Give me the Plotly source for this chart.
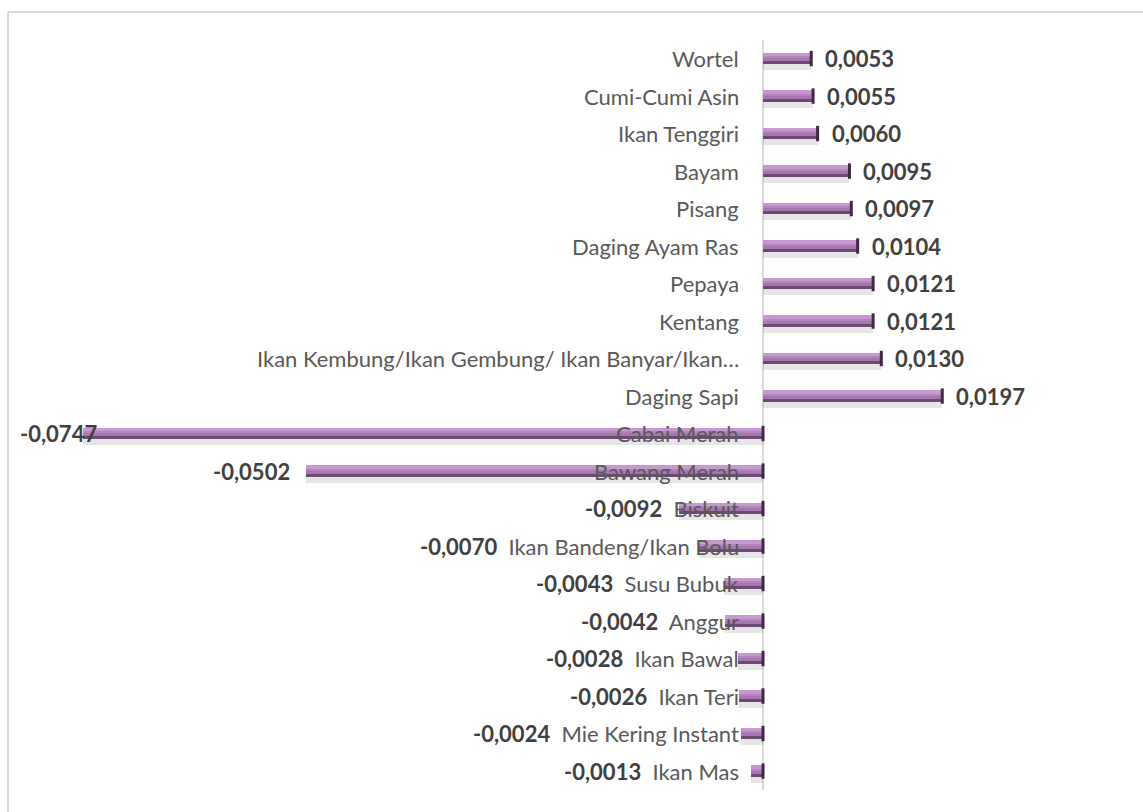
import plotly.graph_objects as go

categories = [
    "Wortel", "Cumi-Cumi Asin", "Ikan Tenggiri", "Bayam", "Pisang",
    "Daging Ayam Ras", "Pepaya", "Kentang",
    "Ikan Kembung/Ikan Gembung/ Ikan Banyar/Ikan…", "Daging Sapi",
    "Cabai Merah", "Bawang Merah", "Biskuit", "Ikan Bandeng/Ikan Bolu",
    "Susu Bubuk", "Anggur", "Ikan Bawal", "Ikan Teri", "Mie Kering Instant",
    "Ikan Mas",
]
values = [
    0.0053, 0.0055, 0.0060, 0.0095, 0.0097, 0.0104, 0.0121, 0.0121, 0.0130,
    0.0197, -0.0747, -0.0502, -0.0092, -0.0070, -0.0043, -0.0042, -0.0028,
    -0.0026, -0.0024, -0.0013,
]

def fmt(v):
    return f"{v:.4f}".replace(".", ",")

pos = list(range(len(categories)))
XMIN, XMAX = -0.08187, 0.03978
FONT = "Lato"
CAT_COLOR = "#595959"
VAL_COLOR = "#404040"
FS = 22

fig = go.Figure()

def bar_layer(color, offset, width):
    fig.add_trace(go.Bar(
        x=values, y=pos, orientation="h", marker=dict(color=color, line=dict(width=0)),
        offset=offset, width=width, hoverinfo="skip", showlegend=False,
    ))

# shadow
bar_layer("rgba(90,90,90,0.15)", -0.06, 0.37)
# main body
bar_layer("#a676af", -0.16, 0.31)
# top highlight
bar_layer("#c997d1", -0.16, 0.10)
# mid soft band
bar_layer("#b584bd", -0.06, 0.05)
# dark bottom
bar_layer("#6c4a74", 0.06, 0.09)

# dark end caps on right side of each bar
fig.add_trace(go.Scatter(
    x=[max(v, 0) for v in values], y=[p - 0.005 for p in pos], mode="markers",
    marker=dict(symbol="line-ns", size=11, line=dict(width=3, color="#3e2a43")),
    hoverinfo="skip", showlegend=False,
))

annotations = []
vmin = min(values)
for cat, v, p in zip(categories, values, pos):
    if v >= 0:
        annotations.append(dict(
            x=0, y=p, xref="x", yref="y", text=cat, showarrow=False,
            xanchor="right", xshift=-22,
            font=dict(family=FONT, size=FS, color=CAT_COLOR),
        ))
        annotations.append(dict(
            x=v, y=p, xref="x", yref="y", text=f"<b>{fmt(v)}</b>", showarrow=False,
            xanchor="left", xshift=12,
            font=dict(family=FONT, size=FS, color=VAL_COLOR),
        ))
    elif v > -0.02:
        txt = (f"<span style='color:{VAL_COLOR}'><b>{fmt(v)}</b></span>"
               f"&nbsp;&nbsp;{cat}")
        annotations.append(dict(
            x=0, y=p, xref="x", yref="y", text=txt, showarrow=False,
            xanchor="right", xshift=-22,
            font=dict(family=FONT, size=FS, color=CAT_COLOR),
        ))
    else:
        annotations.append(dict(
            x=0, y=p, xref="x", yref="y", text=cat, showarrow=False,
            xanchor="right", xshift=-22,
            font=dict(family=FONT, size=FS, color=CAT_COLOR),
        ))
        if v == vmin:
            annotations.append(dict(
                x=XMIN, y=p, xref="x", yref="y", text=f"<b>{fmt(v)}</b>", showarrow=False,
                xanchor="left", xshift=0,
                font=dict(family=FONT, size=FS, color=VAL_COLOR),
            ))
        else:
            annotations.append(dict(
                x=v, y=p, xref="x", yref="y", text=f"<b>{fmt(v)}</b>", showarrow=False,
                xanchor="right", xshift=-14,
                font=dict(family=FONT, size=FS, color=VAL_COLOR),
            ))

fig.update_layout(
    width=1143, height=812,
    margin=dict(l=18, r=18, t=40, b=22),
    paper_bgcolor="white", plot_bgcolor="white",
    barmode="overlay", bargap=0,
    showlegend=False,
    annotations=annotations,
    xaxis=dict(range=[XMIN, XMAX], showgrid=False, showticklabels=False, ticks="",
               zeroline=True, zerolinecolor="#d9d9d9", zerolinewidth=2, fixedrange=True),
    yaxis=dict(range=[len(categories) - 0.5, -0.5], showgrid=False, showticklabels=False,
               ticks="", zeroline=False, fixedrange=True),
    shapes=[
        dict(type="line", xref="paper", yref="paper", x0=-10 / 1107, x1=1.05,
             y0=(812 - 22 - 12) / 750, y1=(812 - 22 - 12) / 750,
             line=dict(color="#d9d9d9", width=2)),
        dict(type="line", xref="paper", yref="paper", x0=-10 / 1107, x1=-10 / 1107,
             y0=-0.05, y1=(812 - 22 - 12) / 750,
             line=dict(color="#d9d9d9", width=2)),
    ],
)

fig.write_html("out.html", post_script="document.body.style.margin='0';",
               config={"displayModeBar": False})
